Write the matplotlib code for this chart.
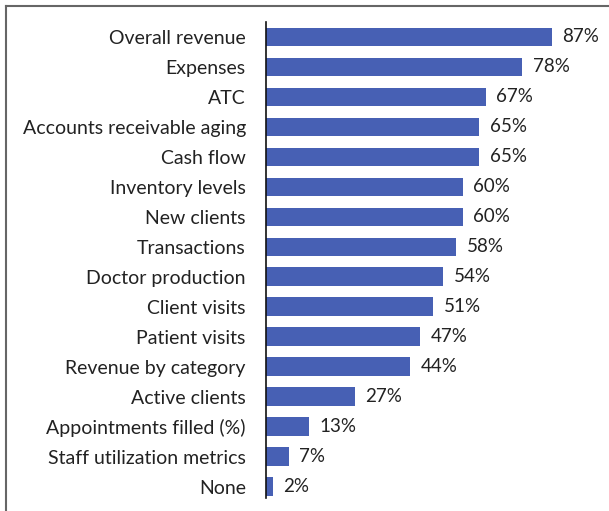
import matplotlib
matplotlib.use("Agg")
import matplotlib.pyplot as plt
from matplotlib.lines import Line2D

categories = ["Overall revenue", "Expenses", "ATC", "Accounts receivable aging",
              "Cash flow", "Inventory levels", "New clients", "Transactions",
              "Doctor production", "Client visits", "Patient visits",
              "Revenue by category", "Active clients", "Appointments filled (%)",
              "Staff utilization metrics", "None"]
values = [87, 78, 67, 65, 65, 60, 60, 58, 54, 51, 47, 44, 27, 13, 7, 2]

plt.rcParams['font.family'] = ['Lato', 'DejaVu Sans']

fig = plt.figure(figsize=(6.09, 5.11), dpi=100)
ax = fig.add_axes([266/609, 1 - 498/511, (590 - 266)/609, (498 - 22)/511])

y = list(range(len(categories)))
ax.barh(y, values, height=0.63, color="#4760b4")
ax.set_ylim(len(categories) - 1 + 0.37, -0.5)
ax.set_xlim(0, 98.7)
ax.set_yticks(y)
ax.set_yticklabels(categories, fontsize=14, color="#222222")
ax.tick_params(axis='y', length=0, pad=14.5)
ax.set_xticks([])
for s in ["top", "right", "bottom"]:
    ax.spines[s].set_visible(False)
ax.spines["left"].set_linewidth(1.2)
ax.spines["left"].set_color("#111111")

for yi, v in zip(y, values):
    ax.text(v + 3.2, yi, f"{v}%", va="center", ha="left", fontsize=13.5, color="#222222")

fig.add_artist(Line2D([6/609, 1], [1 - 6/511, 1 - 6/511], color="#666666", lw=1.5, transform=fig.transFigure))
fig.add_artist(Line2D([6/609, 6/609], [0, 1 - 6/511], color="#666666", lw=1.5, transform=fig.transFigure))

fig.savefig("out.png", dpi=100)
